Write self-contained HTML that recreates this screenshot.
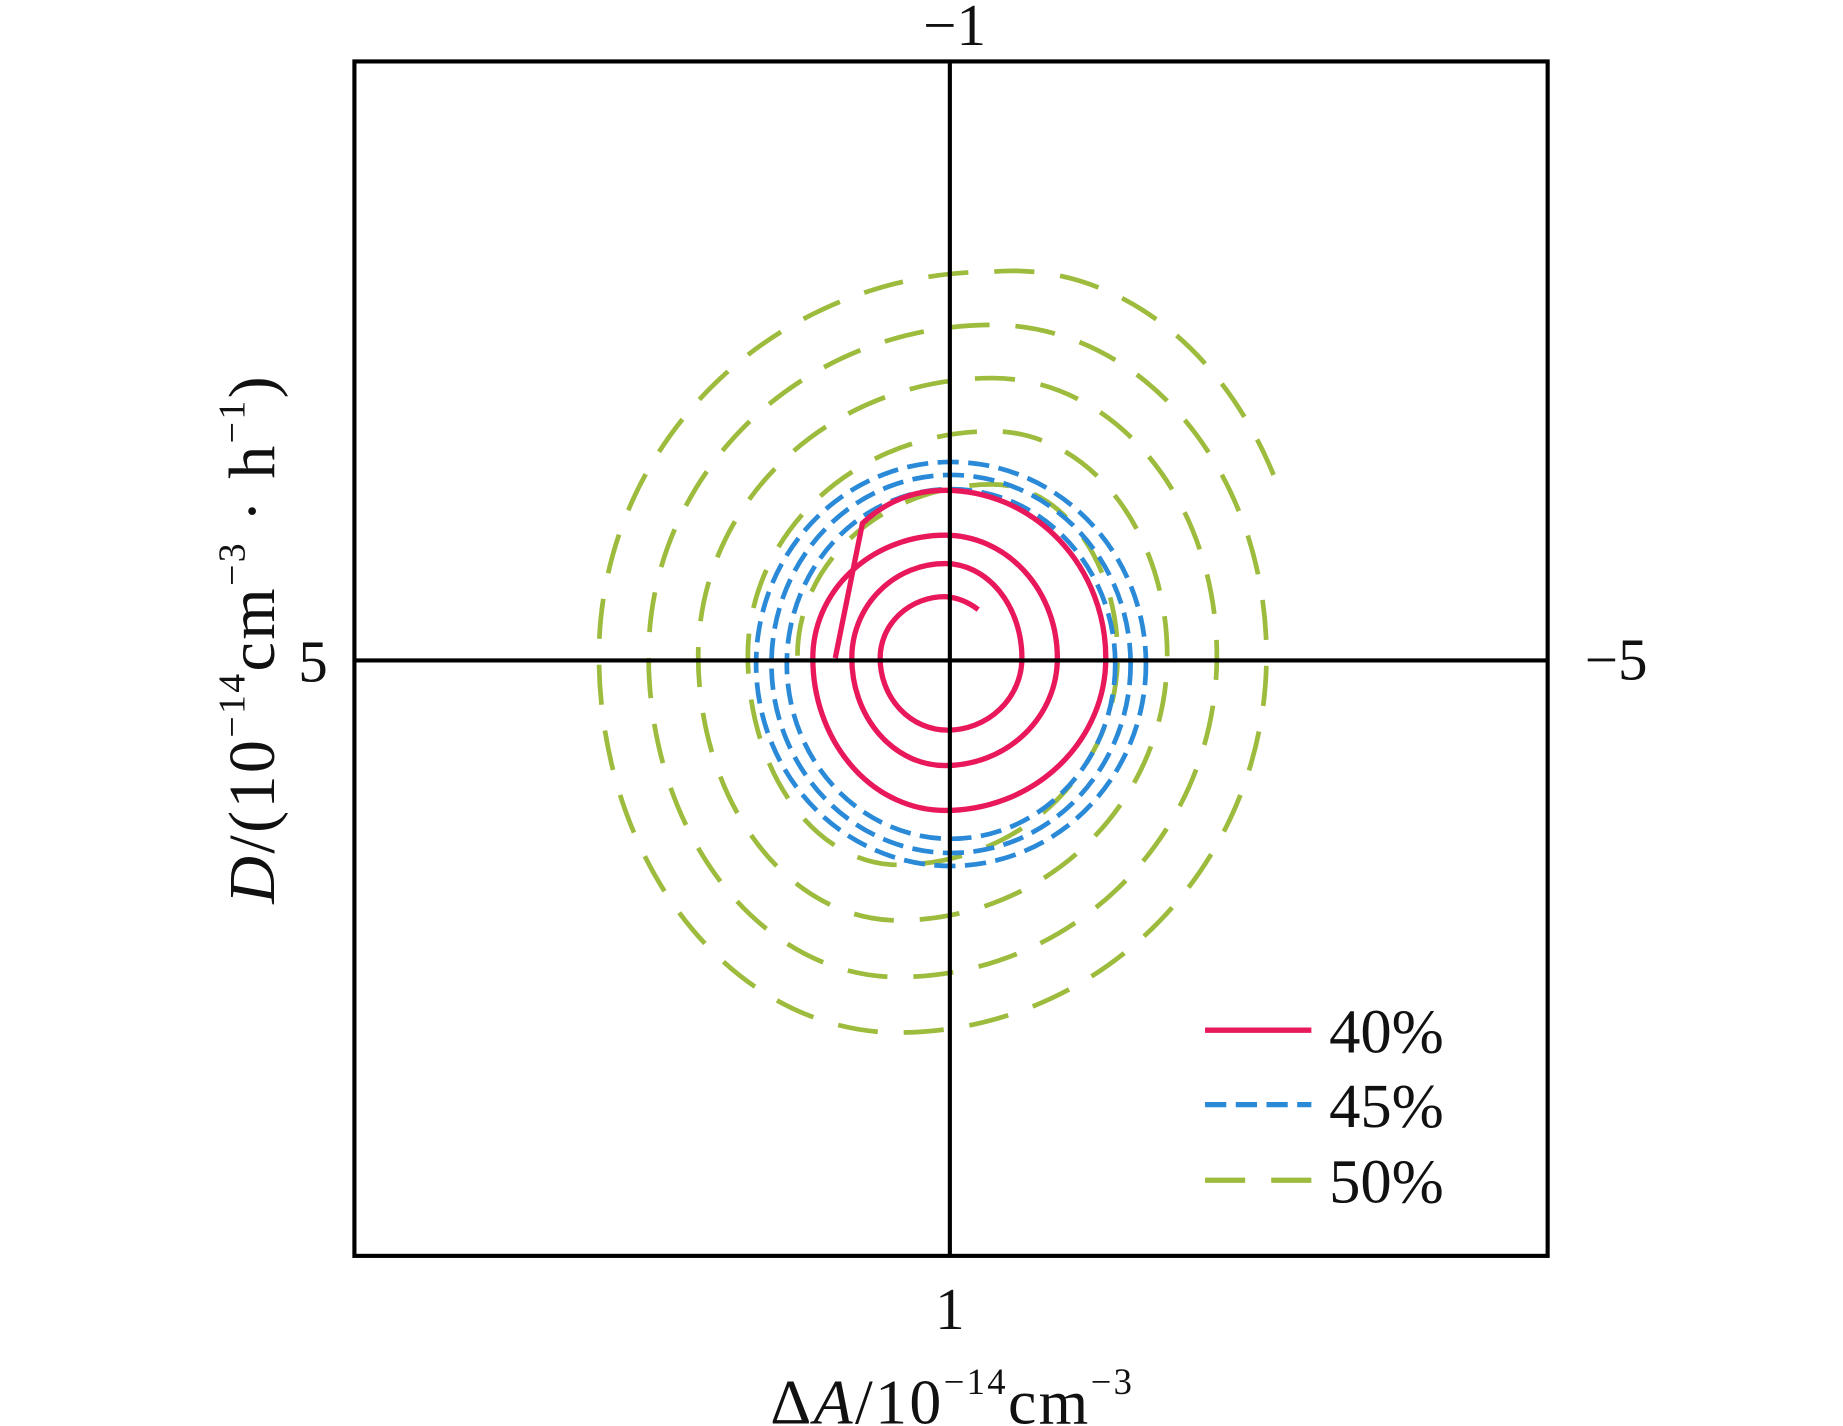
<!DOCTYPE html>
<html><head><meta charset="utf-8"><style>
html,body{margin:0;padding:0;background:#fff;}
svg{display:block;}
text{font-family:"Liberation Serif",serif;fill:#111;}
</style></head><body>
<svg width="1843" height="1426" viewBox="0 0 1560 1207" preserveAspectRatio="none" xmlns="http://www.w3.org/2000/svg">
<rect x="0" y="0" width="1560" height="1207" fill="#fff"/>
<path d="M675,555 A165,145 0 0 1 840,410 A106,145 0 0 1 946,555 A186,177 0 0 1 760,732 A127,177 0 0 1 633,555 A207,190 0 0 1 840,365 A148,190 0 0 1 988,555 A228,224 0 0 1 760,779 A169,224 0 0 1 591,555 A249,235 0 0 1 840,320 A190,235 0 0 1 1030,555 A270,272 0 0 1 760,827 A211,272 0 0 1 549,555 A291,280 0 0 1 840,275 A232,280 0 0 1 1072,555 A312,319 0 0 1 760,874 A253,319 0 0 1 507,555 A333,325 0 0 1 840,230 A250,325 0 0 1 1078,402" fill="none" stroke="#9dbb3c" stroke-width="4" stroke-dasharray="34 22"/>
<g fill="none" stroke="#2a8ad8" stroke-width="4" stroke-dasharray="18 8">
<ellipse cx="805" cy="562" rx="165" ry="171"/>
<ellipse cx="805" cy="562" rx="152" ry="160"/>
<ellipse cx="805" cy="562" rx="139" ry="148"/>
</g>
<path d="M707,557 L730,443 Q760,415 800,415 A136,142 0 0 1 936,557 A136,129 0 0 1 800,686 A112,129 0 0 1 688,557 A112,104 0 0 1 800,453 A95,104 0 0 1 895,557 A95,91 0 0 1 800,648 A79,91 0 0 1 721,557 A79,80 0 0 1 800,477 A65,80 0 0 1 865,557 A63,61 0 0 1 802,618 A57,61 0 0 1 745,557 A55,52 0 0 1 800,505 Q815,506 828,516" fill="none" stroke="#e8185a" stroke-width="4.5" stroke-linejoin="round"/>
<rect x="300" y="52" width="1010" height="1011" fill="none" stroke="#000" stroke-width="3.5"/>
<line x1="804" y1="52" x2="804" y2="1063" stroke="#000" stroke-width="3.5"/>
<line x1="300" y1="559" x2="1310" y2="559" stroke="#000" stroke-width="3.5"/>
<text x="808" y="38" font-size="50" text-anchor="middle">−1</text>
<text x="804" y="1125" font-size="50" text-anchor="middle">1</text>
<text x="265" y="577" font-size="50" text-anchor="middle">5</text>
<text x="1368" y="575" font-size="50" text-anchor="middle">−5</text>
<text x="652" y="1205" font-size="54" letter-spacing="2">Δ<tspan font-style="italic">A</tspan>/10<tspan font-size="31" dy="-25">−14</tspan><tspan dy="25">cm</tspan><tspan font-size="31" dy="-25">−3</tspan></text>
<text transform="translate(232,765) rotate(-90)" font-size="56" letter-spacing="2"><tspan font-style="italic">D</tspan>/(10<tspan font-size="32" dy="-25">−14</tspan><tspan dy="25">cm</tspan><tspan font-size="32" dy="-25">−3</tspan><tspan dy="25"> · h</tspan><tspan font-size="32" dy="-25">−1</tspan><tspan dy="25">)</tspan></text>
<line x1="1020" y1="872" x2="1110" y2="872" stroke="#e8185a" stroke-width="4.5"/>
<line x1="1020" y1="935" x2="1110" y2="935" stroke="#2a8ad8" stroke-width="4.5" stroke-dasharray="18 8"/>
<line x1="1020" y1="999" x2="1110" y2="999" stroke="#9dbb3c" stroke-width="4.5" stroke-dasharray="34 22"/>
<text x="1125" y="891" font-size="53">40%</text>
<text x="1125" y="954" font-size="53">45%</text>
<text x="1125" y="1018" font-size="53">50%</text>
</svg>
</body></html>
